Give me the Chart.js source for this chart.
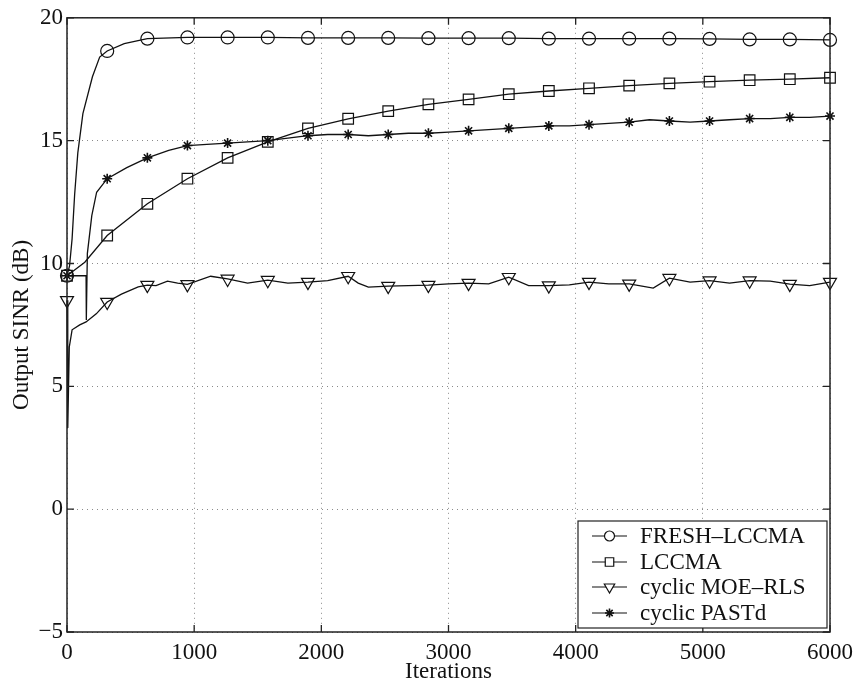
<!DOCTYPE html>
<html>
<head>
<meta charset="utf-8">
<script src="https://cdn.jsdelivr.net/npm/chart.js@4/dist/chart.umd.min.js"></script>
<style>
  html, body { margin: 0; padding: 0; background: #fff; }
  #wrap { width: 860px; height: 689px; }
</style>
</head>
<body>
<div id="wrap"><canvas id="sinr"></canvas></div>
<script>
// marker positions (every 6000/19 iterations)
const markerIters = [0, 316, 632, 947, 1263, 1579, 1895, 2211, 2526, 2842, 3158, 3474, 3789, 4105, 4421, 4737, 5053, 5368, 5684, 6000];

const xTickValues = [0, 1000, 2000, 3000, 4000, 5000, 6000];
const yTickValues = [-5, 0, 5, 10, 15, 20];

// FRESH-LCCMA
const freshIters = [0, 20, 40, 60, 85, 125, 200, 257, 316, 450, 632, 947, 1263, 1579, 1895, 2211, 2526, 2842, 3158, 3474, 3789, 4105, 4421, 4737, 5053, 5368, 5684, 6000];
const freshSinr = [9.5, 9.9, 11.0, 12.8, 14.5, 16.1, 17.6, 18.4, 18.65, 18.95, 19.15, 19.2, 19.2, 19.2, 19.18, 19.18, 19.18, 19.17, 19.17, 19.17, 19.15, 19.15, 19.15, 19.15, 19.14, 19.12, 19.12, 19.1];

// LCCMA
const lccmaIters = [0, 140, 316, 632, 947, 1263, 1579, 1895, 2211, 2526, 2842, 3158, 3474, 3789, 4105, 4421, 4737, 5053, 5368, 5684, 6000];
const lccmaSinr = [9.5, 10.05, 11.14, 12.43, 13.45, 14.3, 14.95, 15.5, 15.89, 16.2, 16.48, 16.68, 16.89, 17.02, 17.13, 17.24, 17.33, 17.4, 17.46, 17.5, 17.56];

// cyclic MOE-RLS
const moeIters = [0, 6, 18, 40, 100, 150, 230, 316, 428, 560, 632, 700, 790, 870, 947, 1130, 1263, 1420, 1579, 1737, 1895, 2050, 2211, 2290, 2370, 2526, 2684, 2842, 3000, 3158, 3316, 3474, 3630, 3789, 3950, 4105, 4260, 4421, 4610, 4737, 4900, 5053, 5210, 5368, 5530, 5684, 5840, 6000];
const moeSinr = [8.5, 3.3, 6.6, 7.3, 7.5, 7.62, 7.95, 8.43, 8.75, 9.05, 9.12, 9.1, 9.28, 9.2, 9.15, 9.48, 9.37, 9.2, 9.32, 9.2, 9.24, 9.3, 9.48, 9.2, 9.04, 9.08, 9.1, 9.12, 9.17, 9.2, 9.17, 9.44, 9.1, 9.1, 9.13, 9.24, 9.17, 9.17, 9.0, 9.4, 9.24, 9.3, 9.2, 9.3, 9.28, 9.16, 9.1, 9.24];

// cyclic PASTd
const pastIters = [0, 150, 152, 160, 195, 233, 316, 470, 632, 800, 947, 1100, 1263, 1420, 1579, 1737, 1895, 2050, 2211, 2370, 2526, 2684, 2842, 3000, 3158, 3316, 3474, 3630, 3789, 3950, 4105, 4260, 4421, 4580, 4737, 4900, 5053, 5210, 5368, 5530, 5684, 5840, 6000];
const pastSinr = [9.5, 9.5, 7.7, 10.4, 11.95, 12.9, 13.45, 13.9, 14.3, 14.6, 14.8, 14.85, 14.9, 14.95, 15.0, 15.1, 15.2, 15.25, 15.25, 15.2, 15.25, 15.3, 15.3, 15.35, 15.4, 15.45, 15.5, 15.55, 15.6, 15.6, 15.65, 15.7, 15.75, 15.85, 15.8, 15.75, 15.8, 15.85, 15.9, 15.9, 15.95, 15.95, 16.0];

const FONT = "'Liberation Serif', 'Times New Roman', serif";
const INK = '#111';

function toPoints(xs, ys) {
  return xs.map((x, i) => ({ x: x, y: ys[i] }));
}

function makeSeries(label, xs, ys, style, radius, rotation) {
  return {
    label: label,
    data: toPoints(xs, ys),
    borderColor: INK,
    borderWidth: 1.3,
    backgroundColor: '#fff',
    pointStyle: style,
    pointRotation: rotation || 0,
    pointBorderColor: INK,
    pointBackgroundColor: style === 'star' ? INK : 'rgba(255,255,255,0)',
    pointBorderWidth: style === 'star' ? 1.6 : 1.2,
    pointRadius: ctx => markerIters.includes(ctx.raw && ctx.raw.x) ? radius : 0,
    pointHoverRadius: 0,
    tension: 0,
    clip: false
  };
}

// small marker for the legend
function drawMarker(ctx, style, x, y, r) {
  ctx.beginPath();
  if (style === 'circle') {
    ctx.arc(x, y, r, 0, Math.PI * 2);
    ctx.fillStyle = '#fff'; ctx.fill(); ctx.stroke();
  } else if (style === 'rect') {
    const s = r * Math.SQRT1_2;
    ctx.rect(x - s, y - s, 2 * s, 2 * s);
    ctx.fillStyle = '#fff'; ctx.fill(); ctx.stroke();
  } else if (style === 'triangle') {
    // pointing down
    const h = r * Math.sqrt(3) / 2;
    ctx.moveTo(x, y + r);
    ctx.lineTo(x - h, y - r / 2);
    ctx.lineTo(x + h, y - r / 2);
    ctx.closePath();
    ctx.fillStyle = '#fff'; ctx.fill(); ctx.stroke();
  } else if (style === 'star') {
    for (let a = 0; a < 4; a++) {
      const t = a * Math.PI / 4;
      ctx.moveTo(x - Math.sin(t) * r, y - Math.cos(t) * r);
      ctx.lineTo(x + Math.sin(t) * r, y + Math.cos(t) * r);
    }
    ctx.stroke();
  }
}

// frame, inward ticks and the boxed legend
const framePlugin = {
  id: 'frame',
  afterDraw(chart) {
    const ctx = chart.ctx;
    const a = chart.chartArea;
    const xs = chart.scales.x, ys = chart.scales.y;
    ctx.save();
    ctx.strokeStyle = '#222';
    ctx.lineWidth = 1.5;
    ctx.strokeRect(a.left, a.top, a.right - a.left, a.bottom - a.top);
    ctx.lineWidth = 1.3;
    ctx.beginPath();
    xTickValues.forEach(v => {
      const px = xs.getPixelForValue(v);
      ctx.moveTo(px, a.bottom); ctx.lineTo(px, a.bottom - 7);
      ctx.moveTo(px, a.top); ctx.lineTo(px, a.top + 7);
    });
    yTickValues.forEach(v => {
      const py = ys.getPixelForValue(v);
      ctx.moveTo(a.left, py); ctx.lineTo(a.left + 7, py);
      ctx.moveTo(a.right, py); ctx.lineTo(a.right - 7, py);
    });
    ctx.stroke();

    // legend box
    const bx = 578, by = 521, bw = 249, bh = 107;
    ctx.fillStyle = '#fff';
    ctx.fillRect(bx, by, bw, bh);
    ctx.strokeStyle = '#222';
    ctx.lineWidth = 1.2;
    ctx.strokeRect(bx, by, bw, bh);
    const rowY = [536, 562, 587, 613];
    const legendR = [5, 6, 6, 4.5];
    chart.data.datasets.forEach((ds, i) => {
      const y = rowY[i];
      ctx.strokeStyle = INK;
      ctx.lineWidth = 1.2;
      ctx.beginPath();
      ctx.moveTo(592, y); ctx.lineTo(627, y);
      ctx.stroke();
      ctx.lineWidth = ds.pointStyle === 'star' ? 1.6 : 1.2;
      drawMarker(ctx, ds.pointStyle, 609.5, y, legendR[i]);
      ctx.fillStyle = INK;
      ctx.font = '23px ' + FONT;
      ctx.textBaseline = 'middle';
      ctx.textAlign = 'left';
      ctx.fillText(ds.label, 640, y + 1);
    });
    ctx.restore();
  }
};

document.addEventListener('DOMContentLoaded', function () {
  const ctx = document.getElementById('sinr').getContext('2d');
  new Chart(ctx, {
    type: 'line',
    data: {
      datasets: [
        makeSeries('FRESH\u2013LCCMA', freshIters, freshSinr, 'circle', 6.5),
        makeSeries('LCCMA', lccmaIters, lccmaSinr, 'rect', 7.5),
        makeSeries('cyclic MOE\u2013RLS', moeIters, moeSinr, 'triangle', 7.5, 180),
        makeSeries('cyclic PASTd', pastIters, pastSinr, 'star', 5)
      ]
    },
    options: {
      responsive: true,
      maintainAspectRatio: false,
      animation: false,
      layout: { padding: { top: 14, right: 22, left: 0, bottom: 0 } },
      plugins: {
        legend: { display: false },
        tooltip: { enabled: false }
      },
      scales: {
        x: {
          type: 'linear',
          min: 0,
          max: 6000,
          afterBuildTicks: s => { s.ticks = xTickValues.map(v => ({ value: v })); },
          afterFit: s => { s.height = 57; },
          grid: { color: '#8a8a8a', lineWidth: 1, drawTicks: false },
          border: { display: false, dash: [1, 4] },
          ticks: {
            color: INK,
            padding: 7,
            maxRotation: 0,
            font: { family: FONT, size: 23 },
            callback: v => String(v)
          },
          title: {
            display: true,
            text: 'Iterations',
            color: INK,
            font: { family: FONT, size: 23 },
            padding: { top: 0, bottom: 3 }
          }
        },
        y: {
          min: -5,
          max: 20,
          afterBuildTicks: s => { s.ticks = yTickValues.map(v => ({ value: v })); },
          afterFit: s => { s.width = 67; },
          grid: { color: '#8a8a8a', lineWidth: 1, drawTicks: false },
          border: { display: false, dash: [1, 4] },
          ticks: {
            color: INK,
            padding: 4,
            font: { family: FONT, size: 23 },
            callback: v => String(v).replace('-', '\u2212')
          },
          title: {
            display: true,
            text: 'Output SINR (dB)',
            color: INK,
            font: { family: FONT, size: 23 },
            padding: { top: 8, bottom: 0 }
          }
        }
      }
    },
    plugins: [framePlugin]
  });
});
</script>
</body>
</html>
